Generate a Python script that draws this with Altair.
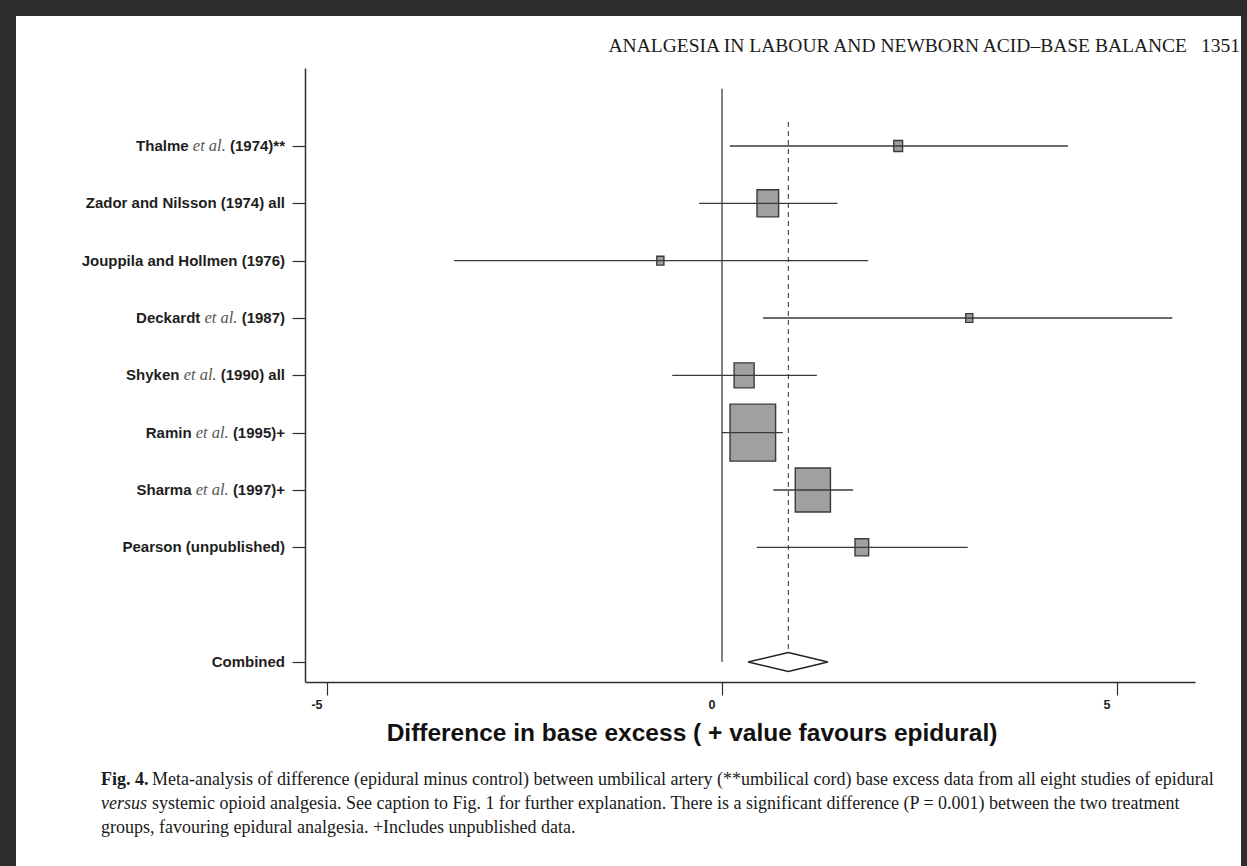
import math
import altair as alt
import pandas as pd

# ---------------- data ----------------
studies = [
    "Thalme et al. (1974)**",
    "Zador and Nilsson (1974) all",
    "Jouppila and Hollmen (1976)",
    "Deckardt et al. (1987)",
    "Shyken et al. (1990) all",
    "Ramin et al. (1995)+",
    "Sharma et al. (1997)+",
    "Pearson (unpublished)",
]
estimate = [2.23, 0.58, -0.78, 3.13, 0.28, 0.39, 1.15, 1.77]
ci_low = [0.10, -0.29, -3.39, 0.52, -0.63, 0.00, 0.65, 0.44]
ci_high = [4.38, 1.46, 1.85, 5.70, 1.20, 0.77, 1.66, 3.11]
weight_pct = [1.7, 10.3, 1.1, 1.1, 8.8, 45.7, 27.2, 4.1]

combined_label = "Combined"
combined_est = 0.84
combined_low = 0.33
combined_high = 1.34

x_ticks = [-5, 0, 5]
x_title = "Difference in base excess ( + value favours epidural)"

header_text = "ANALGESIA IN LABOUR AND NEWBORN ACID\u2013BASE BALANCE"
page_number = "1351"
caption_fig = "Fig. 4."
caption_l1 = ("Meta-analysis of difference (epidural minus control) between umbilical artery "
              "(**umbilical cord) base excess data from all eight studies of epidural")
caption_versus = "versus"
caption_l2 = ("systemic opioid analgesia. See caption to Fig. 1 for further explanation. "
              "There is a significant difference (P = 0.001) between the two treatment")
caption_l3 = "groups, favouring epidural analgesia. +Includes unpublished data."

# ---------------- layout ----------------
W, H = 890, 614
XMIN, XMAX = -5.278, 5.987
YMIN, YMAX = -0.3605, 10.349
PXU_X = W / (XMAX - XMIN)
PXU_Y = H / (YMAX - YMIN)
COMB_ROW = 10

INK = "#2f2f2f"
SANS = "Liberation Sans"
SERIF = "Liberation Serif"
LABEL_SIZE = 15
ITAL_SIZE = 16.5

xscale = alt.Scale(domain=[XMIN, XMAX], nice=False, zero=False)
yscale = alt.Scale(domain=[YMIN, YMAX], nice=False, zero=False, reverse=True)

rows = list(range(1, len(studies) + 1))
df = pd.DataFrame({"row": rows, "est": estimate, "lo": ci_low, "hi": ci_high, "w": weight_pct})
h_px = [math.sqrt(w / 100.0) * 84.3 for w in weight_pct]
w_px = [0.8 * h for h in h_px]
df["bx1"] = [e - wp / 2 / PXU_X for e, wp in zip(estimate, w_px)]
df["bx2"] = [e + wp / 2 / PXU_X for e, wp in zip(estimate, w_px)]
df["by1"] = [r - hp / 2 / PXU_Y for r, hp in zip(rows, h_px)]
df["by2"] = [r + hp / 2 / PXU_Y for r, hp in zip(rows, h_px)]

# Arial/Liberation Sans Bold advance widths (per 1000 em)
SANS_B = {"(": 333, ")": 333, "*": 389, "+": 584, " ": 278, "a": 556, "l": 278}
for d in "0123456789":
    SANS_B[d] = 556
TIMES_I = {"e": 444, "t": 278, " ": 250, "a": 500, "l": 278, ".": 250}


def width(s, table, size):
    return sum(table.get(c, 556) for c in s) * size / 1000.0


label_right_px = -20
sans_pieces, ital_pieces = [], []
for r, s in zip(rows, studies):
    right = label_right_px
    if " et al. " in s:
        pre, suf = s.split(" et al. ")
        sans_pieces.append({"row": r, "t": suf, "x": XMIN + right / PXU_X})
        right -= width(suf, SANS_B, LABEL_SIZE) + width(" ", SANS_B, LABEL_SIZE)
        ital_pieces.append({"row": r, "t": "et al.", "x": XMIN + right / PXU_X})
        right -= width("et al.", TIMES_I, ITAL_SIZE) + width(" ", SANS_B, LABEL_SIZE)
        sans_pieces.append({"row": r, "t": pre, "x": XMIN + right / PXU_X})
    else:
        sans_pieces.append({"row": r, "t": s, "x": XMIN + right / PXU_X})
sans_pieces.append({"row": COMB_ROW, "t": combined_label, "x": XMIN + label_right_px / PXU_X})
sans_df = pd.DataFrame(sans_pieces)
ital_df = pd.DataFrame(ital_pieces)

dh = 9.5 / PXU_Y
diamond = pd.DataFrame({
    "x": [combined_low, combined_est, combined_high, combined_est, combined_low],
    "y": [COMB_ROW, COMB_ROW - dh, COMB_ROW, COMB_ROW + dh, COMB_ROW],
    "o": [0, 1, 2, 3, 4],
})
ref = pd.DataFrame({"x": [0.0], "y1": [0.0], "y2": [float(COMB_ROW)],
                    "cx": [combined_est], "cy1": [0.58], "cy2": [COMB_ROW - dh]})
ticks_df = pd.DataFrame({"v": x_ticks, "t": [str(v) for v in x_ticks]})
one = pd.DataFrame({"k": [0]})

# ---------------- layers ----------------
page = alt.Chart(one).mark_rect(fill="white").encode(
    x=alt.value(16 - 305), x2=alt.value(1241 - 305),
    y=alt.value(16 - 68), y2=alt.value(866 - 68 + 5))

zero_line = alt.Chart(ref).mark_rule(color=INK, strokeWidth=1.2).encode(
    x=alt.X("x:Q", scale=xscale), y=alt.Y("y1:Q", scale=yscale), y2="y2:Q")
dash_line = alt.Chart(ref).mark_rule(color="#444", strokeWidth=1.1, strokeDash=[5, 4]).encode(
    x=alt.X("cx:Q", scale=xscale), y=alt.Y("cy1:Q", scale=yscale), y2="cy2:Q")

boxes = alt.Chart(df).mark_rect(fill="#a0a0a0", stroke="#3a3a3a", strokeWidth=1.4).encode(
    x=alt.X("bx1:Q", scale=xscale), x2="bx2:Q",
    y=alt.Y("by1:Q", scale=yscale), y2="by2:Q")

cis = alt.Chart(df).mark_rule(color="#3a3a3a", strokeWidth=1.4).encode(
    x=alt.X("lo:Q", scale=xscale,
            axis=alt.Axis(values=x_ticks, labels=False, title=x_title, grid=False, zindex=2,
                          domainColor=INK, domainWidth=1.5, tickColor=INK, tickWidth=1.2,
                          tickSize=13,
                          titleFont=SANS, titleFontWeight="bold", titleFontSize=24.5,
                          titleColor="#111", titleX=386.5, titleY=51, titleAlign="center",
                          titleBaseline="middle", titleAnchor="start")),
    x2="hi:Q",
    y=alt.Y("row:Q", scale=yscale,
            axis=alt.Axis(values=rows + [COMB_ROW], labels=False, title=None, grid=False,
                          zindex=2, domainColor=INK, domainWidth=1.5, tickColor=INK,
                          tickWidth=1.2, tickSize=13)))

tick_labels = alt.Chart(ticks_df).mark_text(
    align="center", baseline="middle", font=SANS, fontWeight="bold", fontSize=12.5,
    color="#222", dx=-10).encode(
    x=alt.X("v:Q", scale=xscale), y=alt.value(H + 23), text="t:N")

dia = alt.Chart(diamond).mark_line(color="#222", strokeWidth=1.5, strokeJoin="miter").encode(
    x=alt.X("x:Q", scale=xscale), y=alt.Y("y:Q", scale=yscale), order="o:O")

lab_sans = alt.Chart(sans_df).mark_text(
    align="right", baseline="middle", font=SANS, fontWeight="bold",
    fontSize=LABEL_SIZE, color="#1e1e1e").encode(
    x=alt.X("x:Q", scale=xscale), y=alt.Y("row:Q", scale=yscale), text="t:N")
lab_ital = alt.Chart(ital_df).mark_text(
    align="right", baseline="middle", font=SERIF, fontStyle="italic",
    fontSize=ITAL_SIZE, color="#555").encode(
    x=alt.X("x:Q", scale=xscale), y=alt.Y("row:Q", scale=yscale), text="t:N")


def txt(s, xpx, ypx, size, align="left", weight="normal", style="normal", color="#1a1a1a"):
    return alt.Chart(one).mark_text(
        align=align, baseline="alphabetic", font=SERIF, fontSize=size,
        fontWeight=weight, fontStyle=style, color=color).encode(
        x=alt.value(xpx - 305), y=alt.value(ypx - 68), text=alt.value(s))


CAP = 18
texts = [
    txt(header_text, 1187, 52, 19.5, align="right"),
    txt(page_number, 1240, 52, 19.5, align="right"),
    txt(caption_fig, 101, 785, CAP, weight="bold"),
    txt(caption_l1, 152, 785, CAP),
    txt(caption_versus, 101, 809, CAP, style="italic"),
    txt(caption_l2, 152, 809, CAP),
    txt(caption_l3, 101, 833, CAP),
]

chart = alt.layer(page, zero_line, dash_line, boxes, cis, tick_labels, dia, lab_sans, lab_ital,
                  *texts).properties(
    width=W, height=H,
    padding={"left": 305, "top": 68, "right": 52, "bottom": 184},
    autosize=alt.AutoSizeParams(type="none"),
    background="#2c2c2c",
).configure_view(stroke=None)

chart.save("out.html", embed_options={"renderer": "svg", "actions": False})
